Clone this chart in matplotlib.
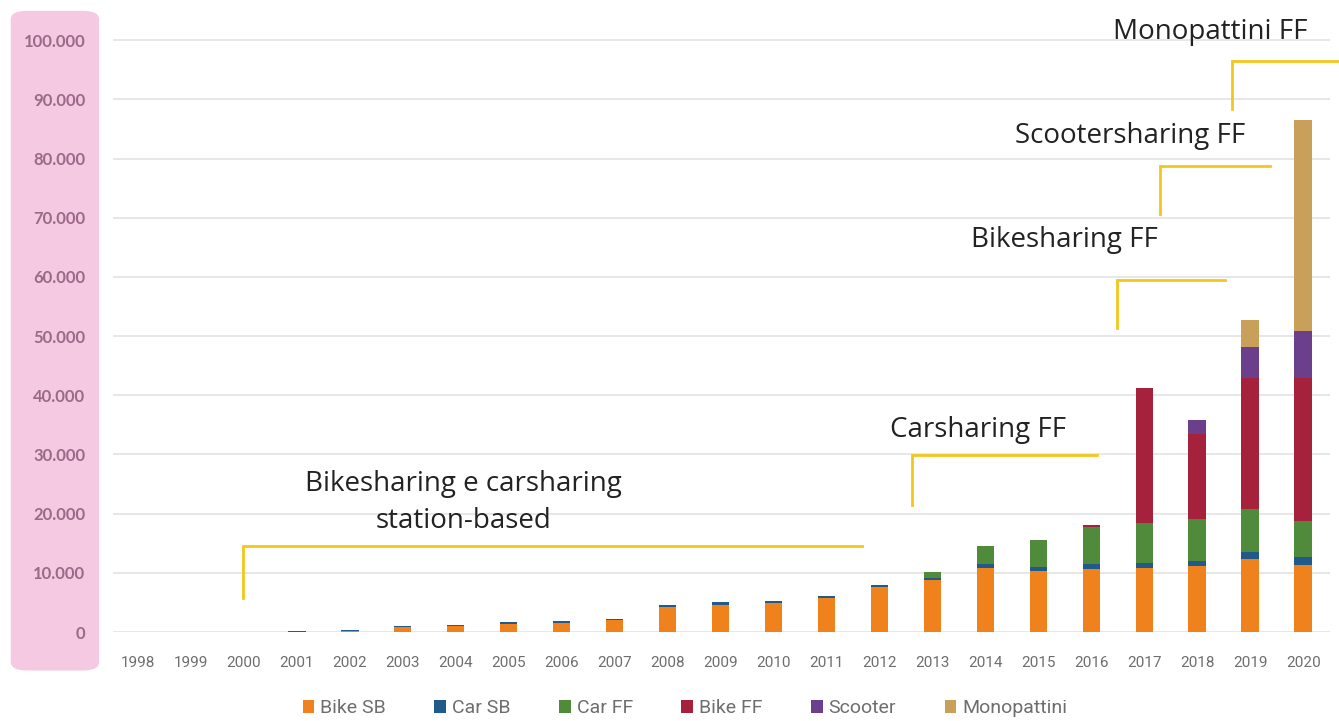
import matplotlib.pyplot as plt
import numpy as np
from matplotlib.patches import FancyBboxPatch
from matplotlib.ticker import FuncFormatter

# ------------------------------
# Data
# ------------------------------
years = [str(y) for y in range(1998, 2021)]
bike_sb = [0, 0, 0, 50, 150, 850, 950, 1400, 1550, 1950, 4250, 4650, 4900, 5750, 7600,
           8800, 10900, 10300, 10600, 10900, 11100, 12300, 11300]
car_sb = [0, 0, 0, 150, 200, 250, 250, 300, 300, 300, 350, 350, 350, 400, 400,
          400, 600, 650, 900, 700, 900, 1300, 1450]
car_ff = [0, 0, 0, 0, 0, 0, 0, 0, 0, 0, 0, 0, 0, 0, 0,
          1000, 3100, 4600, 6300, 6900, 7100, 7150, 6050]
bike_ff = [0, 0, 0, 0, 0, 0, 0, 0, 0, 0, 0, 0, 0, 0, 0,
           0, 0, 0, 300, 22700, 14400, 22250, 24100]
scooter = [0, 0, 0, 0, 0, 0, 0, 0, 0, 0, 0, 0, 0, 0, 0,
           0, 0, 0, 0, 0, 2400, 5150, 7900]
monopattini = [0, 0, 0, 0, 0, 0, 0, 0, 0, 0, 0, 0, 0, 0, 0,
               0, 0, 0, 0, 0, 0, 4650, 35650]

series = [
    ("Bike SB", bike_sb, "#F0821E"),
    ("Car SB", car_sb, "#1F5A8A"),
    ("Car FF", car_ff, "#4F8B3B"),
    ("Bike FF", bike_ff, "#A6213C"),
    ("Scooter", scooter, "#6B3F8C"),
    ("Monopattini", monopattini, "#C8A05A"),
]

# annotation brackets: (label, x of vertical, y bottom, y top, x end of horizontal, text x, text y)
notes = [
    ("Bikesharing e carsharing\nstation-based", 1.98, 5750, 14500, 13.67, 6.15, 21900),
    ("Carsharing FF", 14.62, 21500, 29950, 18.11, 15.86, 34200),
    ("Bikesharing FF", 18.49, 51400, 59500, 20.53, 17.5, 66300),
    ("Scootersharing FF", 19.30, 70700, 78700, 21.38, 18.73, 83800),
    ("Monopattini FF", 20.66, 88300, 96400, 22.68, 20.25, 101400),
]

fig = plt.figure(figsize=(13.39, 7.21), dpi=100)

# pink band behind the y labels
fig.patches.append(FancyBboxPatch((0.008, 0.07), 0.066, 0.915,
                                  boxstyle="round,pad=0,rounding_size=0.012",
                                  transform=fig.transFigure, facecolor="#F6C9E2",
                                  edgecolor="none", zorder=-5))

ax = fig.add_axes([0.0844, 0.1234, 0.9086, 0.862])
ax.set_facecolor("none")
ax.set_zorder(2)

x = np.arange(len(years))
bottom = np.zeros(len(years))
for name, vals, col in series:
    ax.bar(x, vals, width=0.33, bottom=bottom, color=col, label=name, zorder=3)
    bottom += np.array(vals)

ax.set_xlim(-0.47, 22.5)
ax.set_ylim(0, 105000)
ax.set_yticks(range(0, 100001, 10000))
ax.yaxis.set_major_formatter(FuncFormatter(lambda v, p: f"{int(v):,}".replace(",", ".")))
ax.set_xticks(x)
ax.set_xticklabels(years)
ax.grid(axis="y", color="#E3E3E3", linewidth=1.2, zorder=0)
for s in ax.spines.values():
    s.set_visible(False)
ax.tick_params(axis="both", length=0)
ax.tick_params(axis="y", labelsize=12, labelcolor="#9A6A88", pad=20)
ax.tick_params(axis="x", labelsize=11, labelcolor="#6E6E6E", pad=17)
for lab in ax.get_yticklabels():
    lab.set_fontfamily("Lato")
    lab.set_fontweight("bold")
for lab in ax.get_xticklabels():
    lab.set_fontfamily("Roboto")

for text, xv, yb, yt, xe, tx, ty in notes:
    ax.plot([xv, xv, xe], [yb, yt, yt], color="#F2C71B", linewidth=2,
            solid_joinstyle="miter", clip_on=False, zorder=4)
    ax.text(tx, ty, text, ha="center", va="center", fontsize=20,
            color="#222222", family="Open Sans", linespacing=1.4, clip_on=False)

leg = ax.legend(loc="upper center", bbox_to_anchor=(0.47, -0.08), ncol=6, frameon=False,
                fontsize=14, handlelength=0.6, handleheight=0.6, handletextpad=0.3,
                columnspacing=2.5, labelcolor="#6E6E6E")
for t in leg.get_texts():
    t.set_fontfamily("Roboto")

fig.savefig("out.png", dpi=100)
